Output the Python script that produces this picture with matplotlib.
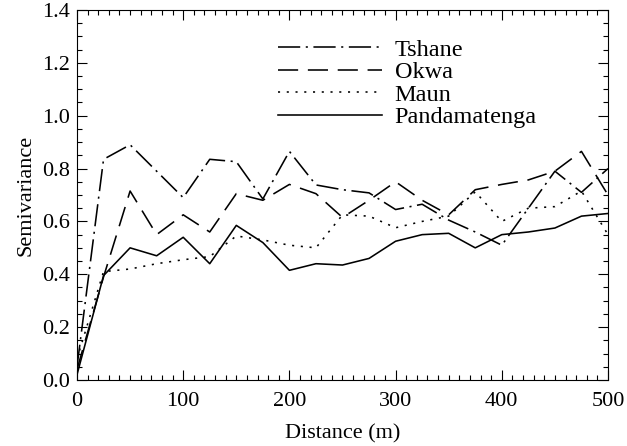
import matplotlib
matplotlib.use('Agg')
import matplotlib.pyplot as plt
from matplotlib.ticker import MultipleLocator

# lag distances (m)
distance = [0, 25, 50, 75, 100, 125, 150, 175, 200, 225, 250,
            275, 300, 325, 350, 375, 400, 425, 450, 475, 500]

tshane = [0.05, 0.835, 0.89, 0.79, 0.69, 0.835, 0.826, 0.685, 0.865, 0.738, 0.72,
          0.708, 0.645, 0.665, 0.605, 0.56, 0.51, 0.65, 0.79, 0.71, 0.80]
okwa = [0.04, 0.39, 0.715, 0.55, 0.625, 0.56, 0.705, 0.68, 0.74, 0.705, 0.615,
        0.68, 0.75, 0.68, 0.625, 0.72, 0.74, 0.757, 0.79, 0.865, 0.70]
maun = [0.08, 0.41, 0.42, 0.44, 0.455, 0.467, 0.545, 0.53, 0.51, 0.50, 0.625,
        0.62, 0.576, 0.60, 0.62, 0.712, 0.60, 0.65, 0.656, 0.715, 0.55]
pandamatenga = [0.02, 0.395, 0.50, 0.47, 0.54, 0.44, 0.585, 0.52, 0.415, 0.44, 0.435,
                0.46, 0.525, 0.55, 0.555, 0.50, 0.55, 0.56, 0.575, 0.62, 0.63]

plt.rcParams['font.family'] = ['Liberation Serif', 'DejaVu Serif']
plt.rcParams['lines.scale_dashes'] = False

fig = plt.figure(figsize=(6.27, 4.46), dpi=100)
ax = fig.add_axes([0.1228, 0.148, 0.8469, 0.8296])

lw = 1.15
ax.plot(distance, tshane, color='black', lw=lw, dashes=(16, 4, 1.5, 4), label='Tshane')
ax.plot(distance, okwa, color='black', lw=lw, dashes=(14.5, 7), label='Okwa')
ax.plot(distance, maun, color='black', lw=lw, dashes=(1.5, 4.8), label='Maun')
ax.plot(distance, pandamatenga, color='black', lw=lw, label='Pandamatenga')

ax.set_xlim(0, 500)
ax.set_ylim(0, 1.4)
ax.xaxis.set_major_locator(MultipleLocator(100))
ax.xaxis.set_minor_locator(MultipleLocator(10))
ax.yaxis.set_major_locator(MultipleLocator(0.2))
ax.yaxis.set_minor_locator(MultipleLocator(0.05))
ax.yaxis.set_major_formatter(plt.FormatStrFormatter('%.1f'))
ax.tick_params(which='both', direction='in', top=True, right=True, labelsize=16)
ax.tick_params(which='major', length=7, width=0.8)
ax.tick_params(which='minor', length=3.5, width=0.8)
ax.tick_params(axis='x', pad=9)
ax.tick_params(axis='y', pad=5)

ax.set_xlabel('Distance (m)', fontsize=16, labelpad=9)
ax.set_ylabel('Semivariance', fontsize=16, labelpad=5)

ax.legend(loc='upper left', bbox_to_anchor=(0.3785, 0.922), frameon=False,
          fontsize=17.5, handlelength=4.3, handletextpad=0.5, labelspacing=0.02,
          borderpad=0, borderaxespad=0)

fig.savefig('out.png', dpi=100)
